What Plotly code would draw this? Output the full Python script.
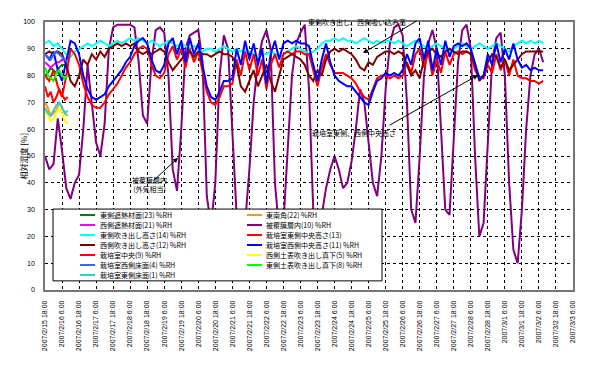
import pandas as pd
import plotly.graph_objects as go

START = pd.Timestamp("2007-02-15 18:00")
END = pd.Timestamp("2007-03-03 06:00")
MAIN_STEP_H = 3
SHORT_STEP_H = 2

# ---- data (relative humidity, %RH) ----
purple_outer = [50,45,47,64,52,38,34,40,43,60,
                84,70,55,50,62,90,98,99,99,99,
                99,98,85,65,62,85,97,98,96,80,
                45,37,60,90,95,96,97,85,35,24,
                40,80,95,90,60,28,22,25,45,70,
                85,93,97,90,40,22,25,55,80,92,
                96,99,75,30,22,28,38,45,50,45,
                38,40,48,60,75,70,55,40,35,50,
                75,92,98,99,95,70,30,25,50,80,
                92,97,90,60,30,28,55,85,97,99,
                90,50,20,25,55,85,94,96,80,40,
                15,10,30,60,80,88,90,85]
cyan_east_out = [92,93,91,92,90,88,87,89,90,91,
                 92,91,92,93,92,91,92,93,92,93,
                 94,93,94,93,92,93,92,91,92,93,
                 92,91,92,91,90,91,90,89,90,90,
                 89,90,91,90,89,90,89,90,89,88,
                 87,88,88,89,88,87,88,89,90,91,
                 90,89,88,89,90,92,93,93,94,93,
                 94,93,93,92,93,94,93,92,93,92,
                 93,93,92,93,92,91,92,93,92,91,
                 90,91,92,91,90,89,90,91,92,91,
                 90,91,92,91,90,91,92,91,90,89,
                 91,92,93,92,93,92,93,92]
darkred_west_out = [88,89,88,89,88,84,78,76,80,86,
                    84,88,86,89,87,90,91,92,91,92,
                    91,92,89,88,89,88,89,90,89,85,
                    82,84,86,88,89,87,89,88,88,87,
                    88,89,88,88,87,84,76,74,78,82,
                    76,80,84,78,74,80,86,87,88,87,
                    86,84,80,78,82,80,86,89,90,89,
                    90,89,88,86,83,82,85,84,87,88,
                    89,89,88,89,88,84,80,82,79,86,
                    89,90,88,87,89,90,89,88,89,89,
                    88,84,78,80,85,88,87,83,86,82,
                    84,86,88,89,89,89,89,89]
blue_west_mid = [88,86,89,82,78,85,93,92,88,80,
                 75,72,71,72,73,76,78,80,82,85,
                 87,91,93,94,92,86,82,81,84,92,
                 94,88,93,85,94,88,92,84,76,72,
                 71,74,78,78,79,90,84,93,86,92,
                 84,90,77,88,93,86,92,93,92,93,
                 92,92,91,84,78,86,92,85,80,78,
                 77,76,76,74,72,70,69,74,78,79,
                 81,80,81,80,82,88,84,92,94,86,
                 93,82,90,84,93,87,91,92,91,92,
                 90,84,79,80,88,84,92,85,90,86,
                 92,86,83,84,82,83,82,82]
red_east_mid = [80,78,82,76,72,80,90,88,84,77,
                72,69,68,68,70,73,75,77,80,83,
                85,88,90,91,90,84,80,79,81,88,
                91,86,90,83,90,85,89,82,74,70,
                69,72,76,76,77,86,80,89,82,88,
                80,86,75,84,88,83,88,89,88,89,
                89,88,88,82,76,83,88,84,81,81,
                81,80,79,77,74,72,71,75,79,80,
                80,79,80,79,80,85,81,88,90,83,
                89,80,86,81,89,84,88,89,88,89,
                88,82,79,79,84,81,88,82,86,80,
                86,80,79,79,78,78,77,78]
# short records (first hours only)
green_23 = [80,81,83,82,81,83,84,84,83]
magenta_21 = [85,84,83,84,85,85,86,86]
orange_22 = [70,68,65,66,67,70,68,66,65]
yellow_5 = [67,65,63,64,66,68,66,63,62]
lime_8 = [83,80,79,78,81,82,80,79,80]
teal_1 = [68,66,65,67,69,70,68,66,67]
royal_4 = [88,87,86,88,89,88,87,86,85]
red_9 = [76,72,74,70,72,75,73,71,72]

# series: (name, values, step, color, legend column, legend row) in Excel order
series = [
    ("東側遮熱材面(23) %RH", green_23, SHORT_STEP_H, "#008000", 0, 0),
    ("東南角(22) %RH", orange_22, SHORT_STEP_H, "#FF9900", 1, 0),
    ("西側遮熱材面(21) %RH", magenta_21, SHORT_STEP_H, "#FF00FF", 0, 1),
    ("被覆膜層内(10) %RH", purple_outer, MAIN_STEP_H, "#800080", 1, 1),
    ("東側吹き出し高さ(14) %RH", cyan_east_out, MAIN_STEP_H, "#00FFFF", 0, 2),
    ("栽培室東側中央高さ(13)", red_east_mid, MAIN_STEP_H, "#FF0000", 1, 2),
    ("西側吹き出し高さ(12) %RH", darkred_west_out, MAIN_STEP_H, "#800000", 0, 3),
    ("栽培室西側中央高さ(11) %RH", blue_west_mid, MAIN_STEP_H, "#0000FF", 1, 3),
    ("栽培室中央(9) %RH", red_9, SHORT_STEP_H, "#FF0000", 0, 4),
    ("西側土表吹き出し真下(5) %RH", yellow_5, SHORT_STEP_H, "#FFFF00", 1, 4),
    ("栽培室西側床面(4) %RH", royal_4, SHORT_STEP_H, "#3366FF", 0, 5),
    ("東側土表吹き出し真下(8) %RH", lime_8, SHORT_STEP_H, "#00FF00", 1, 5),
    ("栽培室東側床面(1) %RH", teal_1, SHORT_STEP_H, "#33CCCC", 0, 6),
]

ticks = pd.date_range(START, END, freq="12h")
ticktext = [f"{t.year}/{t.month}/{t.day} {t.hour}:{t.minute:02d}" for t in ticks]

JP = "Noto Sans CJK JP"
NUM = "Liberation Sans, Noto Sans CJK JP"

fig = go.Figure()
for name, vals, step, color, col, row in series:
    xs = [START + pd.Timedelta(hours=step * i) for i in range(len(vals))]
    fig.add_trace(go.Scatter(x=xs, y=vals, mode="lines", name=name,
                             line=dict(color=color, width=2), showlegend=False))

# hand-placed two-column legend box (Excel style)
shapes = [dict(type="rect", xref="paper", yref="paper", x0=0.0152, x1=0.6383,
               y0=0.034, y1=0.302, fillcolor="white",
               line=dict(color="black", width=1), layer="above")]
annotations = []
col_x = [(0.0663, 0.0947, 0.1004), (0.3826, 0.4110, 0.4148)]
row_y = [0.2799, 0.2425, 0.2052, 0.1679, 0.1306, 0.0933, 0.0560]
for name, vals, step, color, col, row in series:
    lx0, lx1, tx = col_x[col]
    y = row_y[row]
    shapes.append(dict(type="line", xref="paper", yref="paper", x0=lx0, x1=lx1,
                       y0=y, y1=y, line=dict(color=color, width=2), layer="above"))
    annotations.append(dict(xref="paper", yref="paper", x=tx, y=y, text=name,
                            showarrow=False, xanchor="left", yanchor="middle",
                            font=dict(family=JP, size=7, color="black")))

# callouts: text position (paper) and arrow head (data) with tail offset (px)
def T(s):
    return pd.Timestamp(s)

callouts = [
    ("東側吹き出し、西側吸い込み高", 0.6875, 1.026,
     T("2007-02-25 02:06"), 88.4, 55, -33),
    ("栽培室東側、西側中央高さ", 0.6686, 0.5858,
     T("2007-02-28 11:06"), 80.2, -90, 51),
    ("被覆膜層内<br>(外気相当)", 0.161, 0.392,
     T("2007-02-19 15:43"), 49.3, -26, 24),
]
for text, tx, ty, hx, hy, ax, ay in callouts:
    annotations.append(dict(x=tx, y=ty, xref="paper", yref="paper", text=text,
                            showarrow=False, font=dict(family=JP, size=7, color="black")))
    annotations.append(dict(x=hx, y=hy, xref="x", yref="y", text="", showarrow=True,
                            ax=ax, ay=ay, arrowhead=2, arrowsize=1, arrowwidth=1,
                            arrowcolor="black"))

# y-axis title
annotations.append(dict(x=-0.055, y=0.5, xref="paper", yref="paper", text="相対湿度 [%]",
                        textangle=-90, showarrow=False,
                        font=dict(family=JP, size=8, color="black")))

fig.update_layout(
    width=584, height=358,
    margin=dict(l=37, r=19, t=14, b=76),
    paper_bgcolor="white", plot_bgcolor="white",
    showlegend=False,
    shapes=shapes, annotations=annotations,
    font=dict(family=NUM, size=7, color="black"),
    xaxis=dict(type="date", range=[START, END], tickvals=list(ticks), ticktext=ticktext,
               tickangle=-90, tickfont=dict(family=NUM, size=7),
               showgrid=True, gridcolor="black", gridwidth=1, griddash="3px,3px",
               showline=True, mirror=True, linecolor="#777777", linewidth=1.5,
               ticks="", ticklabelstandoff=6, zeroline=False, automargin=False),
    yaxis=dict(range=[0, 100], dtick=10, tickfont=dict(family=NUM, size=7),
               showgrid=True, gridcolor="black", gridwidth=1, griddash="3px,3px",
               showline=True, mirror=True, linecolor="#777777", linewidth=1.5,
               ticks="", ticklabelstandoff=7, zeroline=False, automargin=False),
)

fig.write_html("out.html")
